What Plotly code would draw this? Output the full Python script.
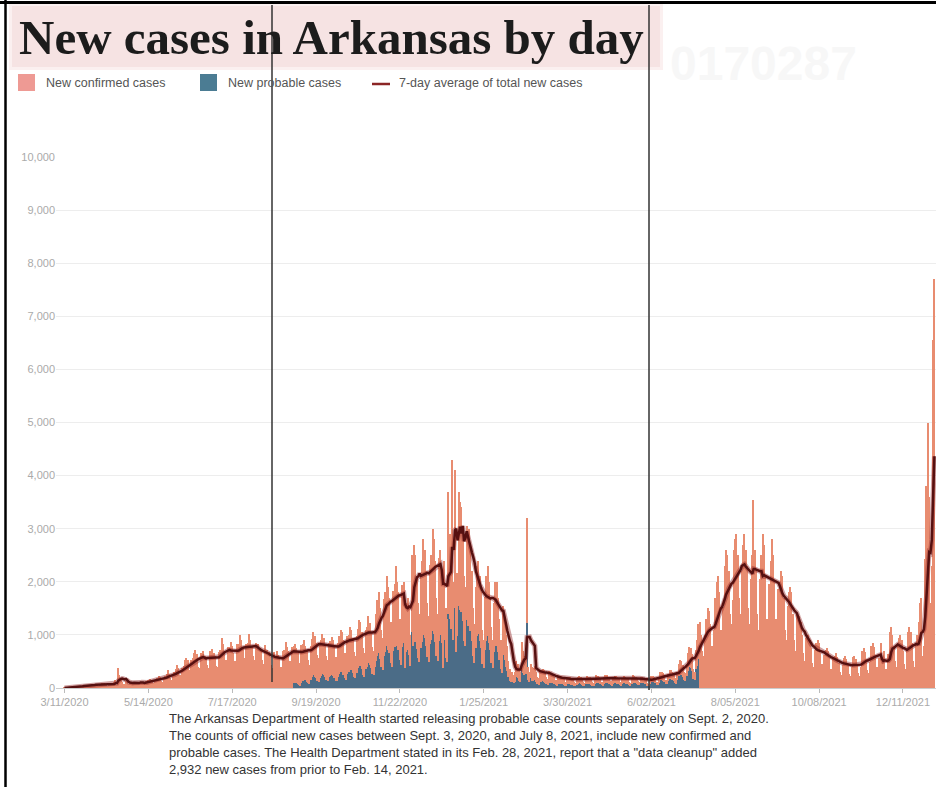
import pandas as pd
import plotly.graph_objects as go

# ---------------- data (daily, starting 2020-03-11) ----------------
start_date = "2020-03-11"
total_cases = [
    1, 5, 3, 6, 4, 10, 15,
    16, 24, 30, 40, 38, 32, 30,
    50, 55, 58, 46, 38, 42, 60,
    62, 75, 80, 68, 50, 45, 70,
    75, 85, 90, 80, 55, 40, 80,
    80, 90, 70, 110, 160, 60, 380,
    250, 160, 120, 70, 80, 130, 170,
    70, 90, 40, 80, 110, 120, 100,
    95, 110, 120, 90, 75, 70, 140,
    120, 150, 170, 160, 110, 90, 145,
    160, 190, 230, 200, 140, 120, 185,
    220, 270, 330, 260, 180, 150, 270,
    300, 360, 440, 380, 250, 210, 370,
    410, 520, 560, 520, 330, 280, 530,
    560, 650, 720, 640, 400, 370, 650,
    600, 700, 610, 580, 430, 380, 690,
    580, 740, 650, 600, 420, 390, 680,
    720, 950, 820, 700, 520, 480, 780,
    780, 860, 800, 650, 510, 480, 820,
    820, 1000, 900, 760, 560, 520, 830,
    850, 1010, 900, 800, 600, 520, 850,
    760, 830, 760, 700, 520, 450, 810,
    640, 720, 680, 580, 430, 380, 680,
    600, 700, 620, 560, 400, 350, 690,
    720, 860, 780, 700, 500, 430, 770,
    800, 830, 760, 660, 480, 420, 810,
    820, 900, 800, 700, 520, 430, 800,
    920, 1050, 980, 840, 620, 560, 840,
    900, 1020, 950, 830, 600, 520, 850,
    880, 960, 900, 780, 580, 520, 840,
    980, 1100, 1050, 900, 650, 580, 970,
    1000, 1150, 1090, 940, 680, 600, 980,
    1120, 1280, 1250, 1050, 760, 650, 1100,
    1150, 1350, 1230, 1050, 780, 690, 1100,
    1400, 1650, 1800, 1500, 1100, 950, 1680,
    1800, 2100, 1900, 1700, 1250, 1050, 1820,
    1950, 2300, 2000, 1800, 1300, 1100, 1940,
    2000, 900, 1600, 1700, 1500, 1000, 2500,
    2300, 2700, 2500, 2100, 1600, 1400, 2170,
    2400, 2800, 2600, 2200, 1600, 1350, 2310,
    2500, 3000, 2800, 2400, 1700, 1400, 2440,
    2600, 2200, 1000, 2400, 1500, 1300, 3700,
    2900, 2500, 4300, 2000, 4100, 1500, 2160,
    3700, 3500, 3400, 3000, 2100, 1900, 3050,
    2900, 3000, 2700, 2200, 1500, 1200, 1900,
    2300, 2400, 2100, 1800, 1100, 900, 1720,
    2100, 2300, 2000, 1700, 1150, 900, 1610,
    2000, 2000, 1700, 1300, 900, 700, 1550,
    1300, 1000, 800, 500, 350, 300, 300,
    250, 300, 500, 450, 350, 300, 860,
    700, 600, 650, 3200, 400, 300, 450,
    400, 380, 420, 300, 200, 180, 340,
    330, 360, 340, 280, 200, 170, 315,
    260, 250, 240, 210, 150, 130, 230,
    210, 220, 200, 170, 120, 100, 205,
    200, 210, 190, 160, 110, 95, 190,
    210, 220, 200, 160, 110, 100, 190,
    230, 210, 200, 170, 120, 100, 195,
    240, 230, 210, 180, 120, 110, 205,
    250, 240, 210, 190, 130, 110, 200,
    230, 230, 200, 180, 120, 110, 190,
    220, 210, 190, 170, 115, 100, 185,
    240, 230, 210, 180, 125, 110, 200,
    200, 190, 170, 160, 90, 70, 170,
    230, 220, 210, 180, 120, 110, 190,
    300, 300, 280, 240, 160, 140, 260,
    340, 330, 310, 270, 180, 160, 300,
    450, 520, 500, 430, 300, 280, 460,
    650, 780, 760, 640, 350, 300, 720,
    900, 1200, 1250, 1000, 700, 600, 1000,
    1300, 1500, 1450, 1200, 800, 700, 1100,
    1700, 2000, 2100, 1800, 1100, 900, 1530,
    2300, 2600, 2500, 2200, 1400, 1200, 1660,
    2600, 2800, 2900, 2500, 1700, 1400, 2200,
    2700, 2900, 2600, 2300, 1500, 1200, 2060,
    2500, 3540, 2600, 2200, 1400, 1100, 2060,
    2500, 2900, 2700, 2100, 1300, 1100, 1960,
    2400, 2800, 2500, 2000, 1300, 1000, 1860,
    2000, 2200, 2100, 1700, 1100, 900, 1550,
    1800, 1900, 1800, 1400, 900, 700, 1370,
    1300, 1350, 1250, 1000, 650, 500, 950,
    1000, 1000, 900, 750, 480, 400, 720,
    850, 900, 850, 650, 450, 360, 630,
    720, 750, 700, 560, 350, 300, 540,
    600, 650, 580, 470, 300, 250, 440,
    560, 600, 540, 430, 270, 220, 390,
    580, 610, 550, 440, 280, 220, 400,
    700, 760, 680, 540, 330, 280, 490,
    800, 850, 780, 620, 400, 320, 570,
    850, 300, 500, 700, 350, 300, 640,
    1050, 1150, 1000, 800, 500, 400, 840,
    950, 1000, 900, 700, 450, 350, 690,
    1050, 1150, 1050, 850, 500, 400, 810,
    1000, 1250, 1600, 1700, 600, 800, 2430,
    3800, 4990, 3600, 1600, 2300, 6550, 7700,
]

probable_start = "2020-09-02"
probable_cases = [
    90, 105, 85, 80, 60, 45, 100,
    140, 170, 150, 120, 90, 75, 150,
    200, 240, 210, 180, 140, 120, 190,
    220, 260, 240, 200, 150, 130, 210,
    230, 240, 220, 190, 140, 130, 215,
    270, 310, 300, 250, 180, 160, 270,
    300, 350, 330, 280, 200, 180, 290,
    370, 420, 410, 350, 250, 210, 360,
    400, 470, 430, 370, 270, 240, 390,
    500, 600, 650, 540, 400, 340, 600,
    680, 800, 720, 650, 470, 400, 690,
    780, 920, 800, 720, 520, 440, 780,
    840, 380, 670, 710, 630, 420, 1050,
    800, 950, 870, 740, 560, 490, 760,
    860, 1000, 940, 790, 580, 490, 830,
    900, 1080, 1010, 860, 610, 500, 880,
    990, 840, 380, 910, 570, 490, 1400,
    1300, 1120, 1850, 900, 1500, 680, 970,
    1550, 1470, 1430, 1260, 880, 800, 1280,
    1160, 1200, 1080, 880, 600, 480, 760,
    970, 1010, 880, 760, 460, 380, 720,
    880, 970, 840, 710, 480, 380, 680,
    800, 800, 680, 520, 360, 280, 620,
    520, 400, 320, 200, 140, 120, 120,
    100, 120, 200, 180, 140, 120, 340,
    280, 240, 260, 1220, 160, 120, 180,
    140, 130, 150, 105, 70, 60, 120,
    115, 125, 120, 100, 70, 60, 110,
    90, 90, 85, 75, 50, 45, 80,
    75, 80, 70, 60, 40, 35, 70,
    70, 75, 65, 55, 40, 35, 65,
    80, 85, 75, 60, 40, 40, 70,
    90, 80, 75, 65, 45, 40, 75,
    95, 90, 85, 70, 50, 45, 80,
    100, 95, 85, 75, 50, 45, 80,
    95, 90, 80, 70, 50, 45, 75,
    90, 90, 80, 70, 50, 40, 80,
    110, 100, 95, 80, 55, 50, 90,
    90, 85, 75, 70, 40, 30, 75,
    115, 110, 105, 90, 60, 55, 95,
    150, 150, 140, 120, 80, 70, 130,
    170, 165, 155, 135, 90, 80, 150,
    220, 260, 250, 210, 150, 140, 230,
    320, 390, 380, 320, 170, 150, 360,
    420, 550,
]

tick_dates = ["2020-03-11", "2020-05-14", "2020-07-17", "2020-09-19", "2020-11-22",
              "2021-01-25", "2021-03-30", "2021-06-02", "2021-08-05", "2021-10-08",
              "2021-12-11"]
tick_labels = ["3/11/2020", "5/14/2020", "7/17/2020", "9/19/2020", "11/22/2020",
               "1/25/2021", "3/30/2021", "6/02/2021", "8/05/2021", "10/08/2021",
               "12/11/2021"]
y_ticks = [0, 1000, 2000, 3000, 4000, 5000, 6000, 7000, 8000, 9000, 10000]

title_text = "New cases in Arkansas by day"
legend_labels = ["New confirmed cases", "New probable cases", "7-day average of total new cases"]
note_lines = [
    "The Arkansas Department of Health started releasing probable case counts separately on Sept. 2, 2020.",
    "The counts of official new cases between Sept. 3, 2020, and July 8, 2021, include new confirmed and",
    "probable cases. The Health Department stated in its Feb. 28, 2021, report that a \"data cleanup\" added",
    "2,932 new cases from prior to Feb. 14, 2021.",
]

# ---------------- derived series ----------------
dates = pd.date_range(start_date, periods=len(total_cases), freq="D")
p_dates = pd.date_range(probable_start, periods=len(probable_cases), freq="D")
prob_map = dict(zip(p_dates, probable_cases))
confirmed_cases = [t - prob_map.get(d, 0) for d, t in zip(dates, total_cases)]
avg7 = pd.Series(total_cases).rolling(7, min_periods=1).mean()

# ---------------- figure ----------------
W, H = 936, 787
L, R, T, B = 56, 0, 157, 99
PW, PH = W - L - R, H - T - B


def px(x):
    return (x - L) / PW


def py(y):
    return (H - B - y) / PH


C_CONF = "#E88C70"
C_PROB = "#4B6C87"
C_LINE = "#561010"
DAY = 86400000

fig = go.Figure()
fig.add_trace(go.Bar(x=p_dates, y=probable_cases, width=DAY, name=legend_labels[1],
                     marker=dict(color=C_PROB, line=dict(width=0))))
fig.add_trace(go.Bar(x=dates, y=confirmed_cases, width=DAY, name=legend_labels[0],
                     marker=dict(color=C_CONF, line=dict(width=0))))
fig.add_trace(go.Scatter(x=dates, y=avg7, mode="lines", hoverinfo="skip", showlegend=False,
                         line=dict(color="rgba(150,45,45,0.45)", width=5)))
fig.add_trace(go.Scatter(x=dates, y=avg7, mode="lines", name=legend_labels[2],
                         line=dict(color=C_LINE, width=2.5)))

shapes = []
annotations = []

# title band
shapes.append(dict(type="rect", xref="paper", yref="paper", x0=px(9), x1=px(663), y0=py(70), y1=py(4),
                   fillcolor="#FBF0F0", line=dict(width=0), layer="below"))
shapes.append(dict(type="rect", xref="paper", yref="paper", x0=px(12), x1=px(660), y0=py(67), y1=py(6),
                   fillcolor="#F6E3E3", line=dict(width=0), layer="below"))

# faint watermark
annotations.append(dict(xref="paper", yref="paper", x=px(668), y=py(64), xanchor="left", yanchor="middle",
                        text="<b>0170287</b>", showarrow=False,
                        font=dict(family="Liberation Sans, Arial", size=48, color="#F7F7F7")))

# title
annotations.append(dict(xref="paper", yref="paper", x=px(17), y=py(37), xanchor="left", yanchor="middle",
                        text="<b>" + title_text + "</b>", showarrow=False,
                        font=dict(family="Liberation Serif, Times New Roman, serif", size=49, color="#1C1C1C")))

# legend
leg_font = dict(family="Liberation Sans, Arial", size=12.5, color="#555555")
shapes.append(dict(type="rect", xref="paper", yref="paper", x0=px(18), x1=px(35), y0=py(91), y1=py(74),
                   fillcolor="#EE9A94", line=dict(width=0)))
annotations.append(dict(xref="paper", yref="paper", x=px(44), y=py(83), xanchor="left", yanchor="middle",
                        text=legend_labels[0], showarrow=False, font=leg_font))
shapes.append(dict(type="rect", xref="paper", yref="paper", x0=px(200), x1=px(217), y0=py(91), y1=py(74),
                   fillcolor="#4B7C93", line=dict(width=0)))
annotations.append(dict(xref="paper", yref="paper", x=px(226), y=py(83), xanchor="left", yanchor="middle",
                        text=legend_labels[1], showarrow=False, font=leg_font))
shapes.append(dict(type="line", xref="paper", yref="paper", x0=px(372), x1=px(390), y0=py(84), y1=py(84),
                   line=dict(color="#8B2525", width=2.5)))
annotations.append(dict(xref="paper", yref="paper", x=px(397), y=py(83), xanchor="left", yanchor="middle",
                        text=legend_labels[2], showarrow=False, font=leg_font))

# footnote
for i, line in enumerate(note_lines):
    annotations.append(dict(xref="paper", yref="paper", x=px(167), y=py(718 + 17 * i), xanchor="left",
                            yanchor="middle", text=line, showarrow=False,
                            font=dict(family="Liberation Sans, Arial", size=13, color="#333333")))

# vertical marker lines
shapes.append(dict(type="line", xref="paper", yref="paper", x0=px(272), x1=px(272), y0=py(682), y1=py(5),
                   line=dict(color="#333333", width=1.5)))
shapes.append(dict(type="line", xref="paper", yref="paper", x0=px(649), x1=px(649), y0=py(690), y1=py(5),
                   line=dict(color="#333333", width=1.5)))

# frame
shapes.append(dict(type="line", xref="paper", yref="paper", x0=px(0), x1=px(936), y0=py(2.5), y1=py(2.5),
                   line=dict(color="#000000", width=3)))
shapes.append(dict(type="line", xref="paper", yref="paper", x0=px(5.5), x1=px(5.5), y0=py(0), y1=py(787),
                   line=dict(color="#000000", width=2.5)))

fig.update_layout(
    width=W, height=H,
    margin=dict(l=L, r=R, t=T, b=B, pad=0),
    paper_bgcolor="white", plot_bgcolor="white",
    barmode="stack", bargap=0, showlegend=False,
    shapes=shapes, annotations=annotations,
    xaxis=dict(type="date", range=["2020-03-04 12:00", "2022-01-05 05:00"],
               tickvals=tick_dates, ticktext=tick_labels,
               ticks="outside", ticklen=4, tickcolor="#BBBBBB",
               showline=True, linecolor="#CCCCCC", linewidth=1,
               showgrid=False, zeroline=False,
               tickfont=dict(family="Liberation Sans, Arial", size=11, color="#AAAAAA")),
    yaxis=dict(range=[0, 10000], tickvals=y_ticks, tickformat=",",
               showgrid=True, gridcolor="#EDEDED", gridwidth=1,
               zeroline=False, showline=False, ticks="",
               tickfont=dict(family="Liberation Sans, Arial", size=11, color="#AAAAAA")),
)

fig.write_html("out.html")
